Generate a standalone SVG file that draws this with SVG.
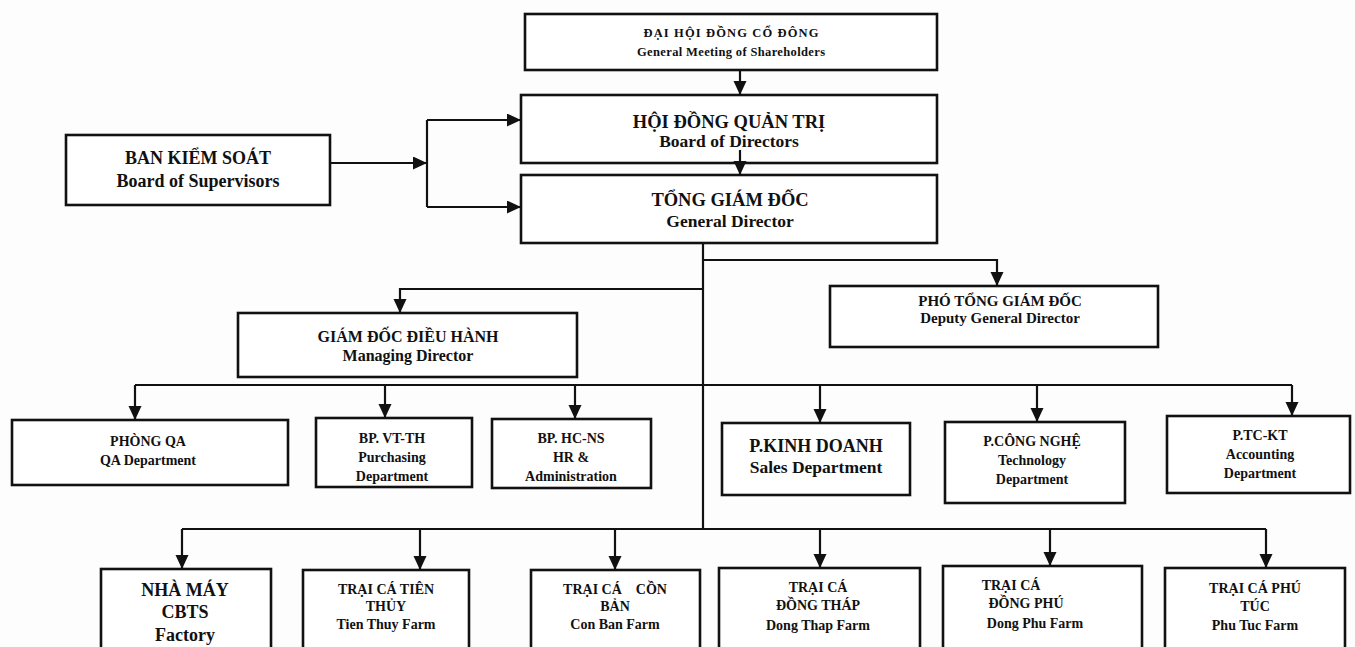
<svg xmlns="http://www.w3.org/2000/svg" width="1355" height="647" viewBox="0 0 1355 647">
<defs>
<marker id="ah" markerUnits="userSpaceOnUse" markerWidth="14" markerHeight="14" refX="14" refY="6.5" orient="auto"><path d="M0,0 L14,6.5 L0,13 z" fill="#111"/></marker>
<style>
.box{fill:#fff;stroke:#111;stroke-width:2.6}
text{font-family:"Liberation Serif","Times New Roman",serif;font-weight:bold;fill:#111;text-anchor:middle}
.c{fill:none;stroke:#111;stroke-width:2.2}
.a{fill:none;stroke:#111;stroke-width:2.2;marker-end:url(#ah)}
.s12{font-size:12.5px}.s14{font-size:14px}.s15{font-size:15px}.s16{font-size:16px}.s17{font-size:17.5px}.s18{font-size:18px}.s19{font-size:18.5px}
</style>
</defs>
<rect width="1355" height="647" fill="#fdfdfd"/>
<g id="dhdcd"><rect class="box" x="525" y="14" width="412" height="56"/>
<text class="s12" x="731" y="37" textLength="175" lengthAdjust="spacing">ĐẠI HỘI ĐỒNG CỔ ĐÔNG</text>
<text class="s12" x="731" y="56" textLength="188" lengthAdjust="spacing">General Meeting of Shareholders</text></g>
<g id="hdqt"><rect class="box" x="521" y="95" width="416" height="68"/>
<text class="s19" x="729" y="128">HỘI ĐỒNG QUẢN TRỊ</text>
<text class="s17" x="729" y="147">Board of Directors</text></g>
<g id="tgd"><rect class="box" x="521" y="175" width="416" height="68"/>
<text class="s19" x="730" y="206">TỔNG GIÁM ĐỐC</text>
<text class="s17" x="730" y="227">General Director</text></g>
<g id="bks"><rect class="box" x="66" y="135" width="264" height="70"/>
<text class="s18" x="198" y="164">BAN KIỂM SOÁT</text>
<text class="s18" x="198" y="187">Board of Supervisors</text></g>
<g id="md"><rect class="box" x="238" y="313" width="339" height="64"/>
<text class="s16" x="408" y="342">GIÁM ĐỐC ĐIỀU HÀNH</text>
<text class="s16" x="408" y="361">Managing Director</text></g>
<g id="pgd"><rect class="box" x="830" y="286" width="328" height="61"/>
<text class="s15" x="1000" y="306">PHÓ TỔNG GIÁM ĐỐC</text>
<text class="s15" x="1000" y="323">Deputy General Director</text></g>
<g id="qa"><rect class="box" x="12" y="420" width="276" height="65"/>
<text class="s14" x="148" y="446">PHÒNG QA</text>
<text class="s14" x="148" y="465">QA Department</text></g>
<g id="vtth"><rect class="box" x="316" y="418" width="156" height="69"/>
<text class="s14" x="392" y="443">BP. VT-TH</text>
<text class="s14" x="392" y="462">Purchasing</text>
<text class="s14" x="392" y="481">Department</text></g>
<g id="hcns"><rect class="box" x="492" y="419" width="159" height="69"/>
<text class="s14" x="571" y="443">BP. HC-NS</text>
<text class="s14" x="571" y="462">HR &amp;</text>
<text class="s14" x="571" y="481">Administration</text></g>
<g id="kd"><rect class="box" x="722" y="423" width="188" height="72"/>
<text class="s18" x="816" y="452">P.KINH DOANH</text>
<text class="s17" x="816" y="473">Sales Department</text></g>
<g id="cn"><rect class="box" x="945" y="422" width="180" height="81"/>
<text class="s14" x="1032" y="446">P.CÔNG NGHỆ</text>
<text class="s14" x="1032" y="465">Technology</text>
<text class="s14" x="1032" y="484">Department</text></g>
<g id="tckt"><rect class="box" x="1167" y="416" width="183" height="77"/>
<text class="s14" x="1260" y="440">P.TC-KT</text>
<text class="s14" x="1260" y="459">Accounting</text>
<text class="s14" x="1260" y="478">Department</text></g>
<g id="nm"><rect class="box" x="101" y="569" width="170" height="90"/>
<text class="s18" x="185" y="596">NHÀ MÁY</text>
<text class="s18" x="185" y="618">CBTS</text>
<text class="s18" x="185" y="641">Factory</text></g>
<g id="tt"><rect class="box" x="303" y="570" width="166" height="90"/>
<text class="s14" x="386" y="594">TRẠI CÁ TIÊN</text>
<text class="s14" x="386" y="611">THỦY</text>
<text class="s14" x="386" y="629">Tien Thuy Farm</text></g>
<g id="cb"><rect class="box" x="531" y="570" width="169" height="90"/>
<text class="s14" x="615" y="594" style="white-space:pre">TRẠI CÁ    CỒN</text>
<text class="s14" x="615" y="611">BẢN</text>
<text class="s14" x="615" y="629">Con Ban Farm</text></g>
<g id="dt"><rect class="box" x="719" y="568" width="201" height="92"/>
<text class="s14" x="818" y="592">TRẠI CÁ</text>
<text class="s14" x="818" y="610">ĐỒNG THÁP</text>
<text class="s14" x="818" y="630">Dong Thap Farm</text></g>
<g id="dp"><rect class="box" x="943" y="566" width="199" height="94"/>
<text class="s14" x="1011" y="590">TRẠI CÁ</text>
<text class="s14" x="1026" y="608">ĐỒNG PHÚ</text>
<text class="s14" x="1035" y="628">Dong Phu Farm</text></g>
<g id="pt"><rect class="box" x="1165" y="568" width="180" height="92"/>
<text class="s14" x="1255" y="593">TRẠI CÁ PHÚ</text>
<text class="s14" x="1255" y="611">TÚC</text>
<text class="s14" x="1255" y="630">Phu Tuc Farm</text></g>
<g id="connectors">
<path class="a" d="M740,70 V95"/>
<path class="a" d="M740,150 V175"/>
<path class="a" d="M330,163 H427"/>
<path class="c" d="M427,120 V207"/>
<path class="a" d="M427,120 H521"/>
<path class="a" d="M427,207 H521"/>
<path class="c" d="M703,243 V530"/>
<path class="a" d="M703,260 H997 V286"/>
<path class="a" d="M703,289 H400 V313"/>
<path class="c" d="M135,385 H1292"/>
<path class="a" d="M135,385 V420"/>
<path class="a" d="M385,385 V418"/>
<path class="a" d="M575,385 V419"/>
<path class="a" d="M820,385 V423"/>
<path class="a" d="M1037,385 V422"/>
<path class="a" d="M1292,385 V416"/>
<path class="c" d="M182,529 H1266"/>
<path class="a" d="M182,529 V569"/>
<path class="a" d="M420,529 V570"/>
<path class="a" d="M615,529 V570"/>
<path class="a" d="M820,529 V568"/>
<path class="a" d="M1050,529 V566"/>
<path class="a" d="M1266,529 V568"/>
</g>
</svg>
